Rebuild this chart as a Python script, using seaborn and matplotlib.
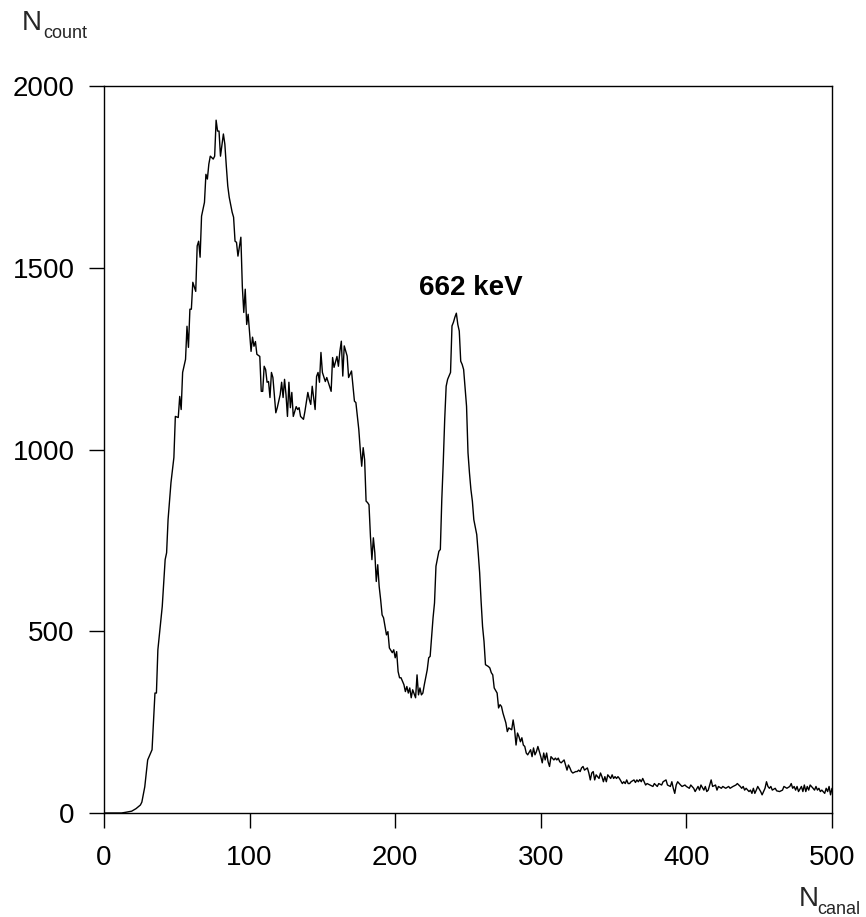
import matplotlib
matplotlib.use("Agg")
import matplotlib.pyplot as plt
import seaborn as sns
import pandas as pd

channels = [0, 12, 15, 19, 22, 25, 26, 28, 30, 33, 35, 36, 37, 40, 42, 43, 44, 46, 48, 49,
            51, 52, 53, 54, 56, 57, 58, 59, 60, 61, 63, 64, 65, 66, 67, 69, 70, 71, 72, 73,
            75, 76, 77, 78, 79, 80, 82, 83, 84, 85, 86, 88, 89, 90, 91, 92, 94, 95, 96, 97,
            98, 99, 100, 101, 102, 103, 104, 105, 107, 108, 109, 110, 111, 112, 113, 114, 115, 116, 118, 119,
            121, 122, 123, 124, 125, 126, 127, 128, 129, 130, 132, 133, 134, 135, 137, 138, 140, 141, 142, 143,
            145, 146, 147, 148, 149, 150, 152, 153, 154, 156, 157, 158, 160, 161, 162, 163, 164, 165, 167, 168,
            170, 171, 172, 173, 175, 176, 177, 178, 179, 180, 181, 182, 183, 184, 185, 186, 187, 188, 189, 190,
            191, 192, 193, 194, 195, 196, 198, 199, 200, 201, 202, 203, 204, 206, 207, 208, 209, 210, 211, 212,
            214, 215, 216, 217, 218, 219, 220, 222, 223, 224, 225, 226, 227, 228, 230, 231, 232, 233, 234, 235,
            236, 238, 239, 240, 241, 242, 243, 244, 245, 246, 247, 249, 250, 251, 252, 253, 254, 256, 257, 258,
            259, 260, 261, 262, 264, 265, 266, 267, 268, 270, 271, 272, 273, 274, 276, 277, 278, 280, 281, 282,
            283, 284, 285, 286, 287, 288, 289, 290, 291, 293, 294, 295, 296, 297, 298, 300, 301, 302, 303, 304,
            305, 306, 307, 309, 310, 311, 312, 313, 314, 316, 317, 318, 319, 320, 321, 322, 324, 325, 326, 327,
            328, 329, 330, 332, 333, 334, 335, 336, 337, 338, 340, 341, 342, 343, 344, 345, 346, 348, 349, 350,
            351, 352, 353, 354, 356, 357, 358, 359, 360, 361, 362, 364, 365, 366, 367, 368, 369, 370, 372, 373,
            375, 377, 378, 380, 381, 383, 384, 386, 387, 389, 390, 391, 392, 393, 394, 396, 397, 399, 400, 402,
            403, 405, 406, 408, 409, 410, 412, 413, 414, 415, 416, 417, 418, 420, 421, 422, 424, 425, 427, 429,
            430, 432, 434, 435, 437, 438, 439, 440, 441, 443, 444, 445, 446, 447, 448, 449, 451, 452, 454, 455,
            456, 457, 458, 459, 461, 462, 464, 466, 467, 469, 471, 472, 473, 474, 475, 476, 477, 479, 480, 481,
            482, 483, 484, 485, 487, 488, 489, 490, 491, 492, 493, 495, 496, 497, 498, 499, 500]

counts = [0, 0, 2, 5, 12, 22, 30, 72, 146, 174, 330, 330, 449, 568, 697, 716, 807, 909, 978, 1091,
          1088, 1146, 1110, 1212, 1248, 1339, 1281, 1386, 1386, 1460, 1435, 1560, 1573, 1529, 1642, 1680, 1757, 1744, 1785, 1807,
          1799, 1807, 1906, 1876, 1876, 1807, 1868, 1840, 1780, 1725, 1694, 1653, 1639, 1573, 1570, 1532, 1584, 1449, 1377, 1441,
          1344, 1372, 1322, 1270, 1309, 1284, 1297, 1262, 1256, 1160, 1160, 1229, 1220, 1185, 1187, 1143, 1212, 1198, 1101, 1115,
          1151, 1185, 1143, 1193, 1151, 1091, 1185, 1115, 1157, 1091, 1118, 1110, 1115, 1091, 1083, 1105, 1157, 1138, 1124, 1174,
          1110, 1201, 1212, 1185, 1267, 1212, 1187, 1198, 1185, 1160, 1253, 1226, 1256, 1229, 1270, 1298, 1202, 1285, 1257, 1198,
          1216, 1174, 1133, 1129, 1055, 1000, 954, 1005, 972, 858, 854, 848, 761, 697, 757, 716, 637, 683, 623, 587,
          545, 537, 513, 490, 499, 454, 441, 449, 427, 444, 389, 372, 372, 353, 334, 348, 330, 344, 317, 339,
          317, 380, 325, 344, 325, 330, 353, 394, 427, 431, 486, 537, 578, 679, 720, 725, 862, 964, 1083, 1174,
          1193, 1212, 1340, 1350, 1364, 1375, 1344, 1326, 1243, 1234, 1220, 1119, 991, 936, 890, 858, 807, 766, 716, 661,
          582, 513, 472, 408, 403, 399, 386, 380, 344, 330, 289, 298, 293, 275, 248, 224, 234, 229, 256, 229,
          187, 220, 210, 196, 207, 187, 183, 165, 160, 174, 155, 179, 160, 169, 183, 155, 138, 165, 146, 165,
          141, 128, 155, 146, 151, 146, 151, 141, 138, 146, 132, 118, 132, 124, 114, 110, 114, 114, 118, 114,
          124, 128, 118, 124, 110, 91, 110, 114, 91, 105, 95, 110, 100, 86, 100, 86, 105, 95, 105, 95,
          100, 95, 100, 95, 81, 86, 81, 91, 81, 81, 86, 91, 84, 91, 86, 92, 86, 95, 77, 81,
          77, 73, 81, 73, 81, 77, 86, 91, 77, 73, 86, 68, 54, 77, 86, 77, 73, 77, 73, 68,
          77, 68, 59, 73, 63, 77, 63, 73, 59, 63, 77, 91, 73, 77, 63, 73, 68, 73, 68, 73,
          68, 73, 77, 81, 73, 68, 73, 63, 68, 59, 63, 54, 68, 54, 63, 73, 59, 50, 68, 86,
          73, 68, 73, 63, 68, 61, 59, 63, 73, 68, 73, 81, 68, 73, 63, 73, 59, 73, 59, 77,
          59, 73, 63, 77, 68, 63, 73, 63, 68, 59, 63, 54, 68, 59, 73, 50, 68]

x_ticks = [0, 100, 200, 300, 400, 500]
y_ticks = [0, 500, 1000, 1500, 2000]
peak_label = "662 keV"
peak_pos = (252, 1443)

df = pd.DataFrame({"canal": channels, "count": counts})

sns.set_style("ticks")
plt.rcParams['font.family'] = ['Liberation Sans', 'DejaVu Sans']

fig = plt.figure(figsize=(8.66, 9.17), dpi=100)
ax = fig.add_axes([104 / 866, 1 - 813 / 917, 728 / 866, 727 / 917])

sns.lineplot(data=df, x="canal", y="count", ax=ax, color="black", linewidth=1.0)

ax.set_xlim(0, 500)
ax.set_ylim(0, 2000)
ax.set_xticks(x_ticks)
ax.set_yticks(y_ticks)
ax.set_xlabel("")
ax.set_ylabel("")
for s in ax.spines.values():
    s.set_visible(True)
    s.set_linewidth(1.0)
    s.set_color("black")
ax.tick_params(axis="both", direction="out", length=11, width=1.0, color="black",
               labelsize=20, labelcolor="black")
ax.tick_params(axis="x", pad=12)
ax.tick_params(axis="y", pad=10)

ax.text(peak_pos[0], peak_pos[1], peak_label, ha="center", va="center",
        fontsize=20, fontweight="bold", color="black")

# axis labels with subscripts
fig.text(22 / 866, 1 - 30 / 917, "N", fontsize=20, ha="left", va="baseline")
fig.text(43 / 866, 1 - 38 / 917, "count", fontsize=13, ha="left", va="baseline")
fig.text(799 / 866, 1 - 906 / 917, "N", fontsize=20, ha="left", va="baseline")
fig.text(817 / 866, 1 - 914 / 917, "canal", fontsize=13, ha="left", va="baseline")

fig.savefig("out.png", dpi=100)
